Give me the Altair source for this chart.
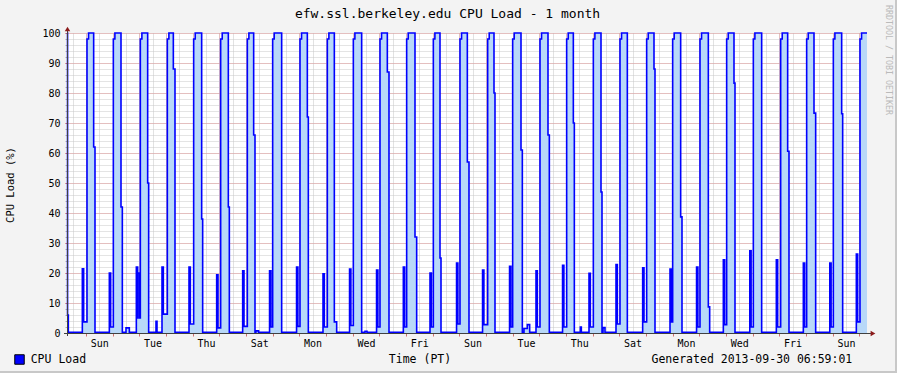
import altair as alt
import pandas as pd
from datetime import datetime, timezone, timedelta

FONT = "DejaVu Sans Mono"
START = datetime(2013, 8, 31, 6, 59, 1, tzinfo=timezone.utc)
BASE = 0.2

# ---- readings (hours after START) ----
spike_start = [13.8, 38.1, 62.4, 85.5, 109.8, 134.7, 158.1, 182.3, 206.6, 230.4,
               254.3, 278.6, 302.7, 326.7, 350.6, 374.0, 398.3, 422.1, 446.0, 469.8,
               494.1, 518.1, 542.7, 566.6, 590.7, 614.5, 638.4, 662.7, 686.5, 710.4]
spike_val = [21.4, 20.0, 22.0, 22.0, 22.0, 19.4, 20.7, 20.7, 22.0, 19.7,
             21.3, 21.0, 22.0, 20.0, 23.3, 21.0, 22.2, 20.7, 22.6, 19.9,
             22.8, 21.7, 21.3, 22.0, 24.4, 27.4, 24.4, 23.3, 23.3, 26.3]
spike_end = [15.0, 39.3, 63.6, 86.7, 111.0, 135.9, 159.3, 183.5, 207.8, 231.6,
             255.5, 279.8, 303.9, 327.9, 351.8, 375.2, 399.5, 423.3, 447.2, 471.0,
             495.3, 519.3, 543.9, 567.8, 591.9, 615.7, 639.6, 663.9, 687.7, 711.6]
pre_val = [3.7, 2.0, 5.0, 6.3, 3.0, 1.7, 2.2, 2.0, 2.2, 2.0,
           2.5, 2.0, 2.0, 2.0, 3.0, 2.8, 2.0, 2.0, 2.0, 2.0,
           3.0, 3.7, 3.7, 2.0, 2.8, 2.0, 2.0, 2.0, 2.0, 3.7]
rise = [18.0, 41.7, 66.0, 90.3, 114.0, 138.3, 162.3, 185.1, 209.7, 234.3,
        257.7, 281.7, 305.7, 329.7, 353.7, 378.6, 401.1, 425.7, 449.7, 473.7,
        497.7, 521.7, 545.1, 569.7, 593.7, 617.7, 642.3, 665.7, 689.7, 713.7]
full_on = [19.4, 43.1, 67.4, 91.7, 115.4, 139.7, 163.7, 186.5, 211.1, 235.7,
           259.1, 283.1, 307.1, 331.1, 355.1, 380.0, 402.5, 427.1, 451.1, 475.1,
           499.1, 523.1, 546.5, 571.1, 595.1, 619.1, 643.7, 667.1, 691.1, 715.1]
fall = [24.0, 48.6, 72.6, 95.7, 121.2, 145.2, 168.0, 193.2, 216.3, 240.6,
        265.2, 288.3, 313.2, 335.7, 360.3, 384.3, 408.6, 432.9, 455.7, 480.6,
        504.3, 528.3, 552.3, 577.2, 600.3, 625.2, 648.6, 672.3, 697.2]
shoulder = [62, 42, 50, 88, 38, 42, 66, 0, 72, 3.7,
            0, 87, 32, 25, 57, 80, 61, 66, 70, 47,
            0, 88, 38.7, 8.7, 83.3, 0, 60.6, 73.3, 73.1]
settle = [25.2, 49.8, 73.5, 97.2, 122.1, 146.1, 169.2, 193.2, 217.2, 242.7,
          265.2, 289.8, 314.7, 336.6, 361.8, 385.2, 409.8, 434.1, 456.6, 481.5,
          504.3, 529.2, 553.5, 578.4, 601.2, 625.2, 649.8, 673.8, 698.1]
extra_hour = [0.0, 0.5, 1.2, 53.1, 56.1, 63.9, 65.4, 80.1, 81.0, 170.0, 172.4,
              268.2, 270.0, 411.3, 414.3, 416.4, 462.0, 462.9, 482.4, 484.2, 720.0]
extra_val = [100.0, 6.0, BASE, 1.7, BASE, 20.0, 5.0, 3.9, BASE, 0.7, BASE,
             0.6, BASE, 1.5, 2.8, BASE, 2.0, BASE, 1.8, BASE, 100.0]
series_names = ["CPU Load"]

# tick positions: first midnight is 2013-09-01 00:00
FIRST_MIDNIGHT = datetime(2013, 9, 1, 0, 0, 0, tzinfo=timezone.utc)
day_ticks = [FIRST_MIDNIGHT + timedelta(days=d) for d in range(30)]
half_day_ticks = [FIRST_MIDNIGHT + timedelta(hours=12 * k - 12) for k in range(61)]
label_ticks = [FIRST_MIDNIGHT + timedelta(days=2 * d, hours=12) for d in range(15)]


def ms(dt):
    return int(dt.timestamp() * 1000)


def iso(dt):
    return dt.strftime("%Y-%m-%dT%H:%M:%SZ")


pts = list(zip(extra_hour, extra_val))
for i in range(len(spike_start)):
    pts += [(spike_start[i], spike_val[i]), (spike_end[i], pre_val[i]),
            (rise[i], 98.0), (full_on[i], 100.0)]
    if i < len(fall):
        if shoulder[i] > 0:
            pts.append((fall[i], float(shoulder[i])))
        pts.append((settle[i], BASE))
pts.sort(key=lambda p: p[0])
df = pd.DataFrame({
    "time": [iso(START + timedelta(hours=h)) for h, _ in pts],
    "load": [v for _, v in pts],
})

xscale = alt.Scale(type="utc", nice=False, domain=[
    alt.DateTime(year=2013, month=8, date=31, hours=6, minutes=59, seconds=1, utc=True),
    alt.DateTime(year=2013, month=9, date=30, hours=6, minutes=59, seconds=1, utc=True)])
yscale = alt.Scale(domain=[0, 100], nice=False)

minor_x = alt.Axis(orient="bottom", values=[ms(t) for t in half_day_ticks],
                   grid=True, gridColor="#c4c4c4", gridDash=[1, 1], labels=False,
                   ticks=False, domain=False, title=None, zindex=0)
major_x = alt.Axis(orient="bottom", values=[ms(t) for t in day_ticks],
                   grid=True, gridColor="#e49a9a", gridDash=[1, 1],
                   ticks=True, tickColor="#d07070", tickSize=3, labels=False,
                   domain=False, title=None, zindex=0)
label_x = alt.Axis(orient="bottom", values=[ms(t) for t in label_ticks], format="%a",
                   grid=False, ticks=False, tickSize=3, labelFont=FONT, labelFontSize=10,
                   labelColor="#000000", labelPadding=5, labelOverlap=False,
                   labelFlush=False, labelBound=False, domain=False, title=None)
minor_y = alt.Axis(orient="left", values=list(range(0, 101, 2)), grid=True,
                   gridColor="#c8c8c8", gridDash=[1, 1], labels=False, ticks=True,
                   tickSize=2, tickColor="#b0b0b0", domain=False, title=None, zindex=0)
major_y = alt.Axis(orient="left", values=list(range(0, 101, 10)), grid=True,
                   gridColor="#e49a9a", gridDash=[1, 1], ticks=True, tickColor="#d07070",
                   tickSize=2, labelFont=FONT, labelFontSize=10, labelColor="#000000",
                   labelPadding=5, domain=False, title=None, zindex=0)

area = alt.Chart(df).mark_area(interpolate="step-after", color="#b8d8f8", opacity=1).encode(
    x=alt.X("time:T", scale=xscale, axis=minor_x),
    y=alt.Y("load:Q", scale=yscale, axis=minor_y),
)
line = alt.Chart(df).mark_line(interpolate="step-after", color="#0000ff", strokeWidth=1.6).encode(
    x=alt.X("time:T", scale=xscale, axis=major_x),
    y=alt.Y("load:Q", scale=yscale, axis=major_y),
)
label_layer = alt.Chart(df).mark_line(opacity=0).encode(
    x=alt.X("time:T", scale=xscale, axis=label_x),
    y=alt.Y("load:Q", scale=yscale, axis=None),
)

one = pd.DataFrame({"k": [0]})
x_line = alt.Chart(one).mark_rule(color="#404040", strokeWidth=1).encode(
    x=alt.value(-3), x2=alt.value(804), y=alt.value(300.5))
y_line = alt.Chart(one).mark_rule(color="#404040", strokeWidth=1).encode(
    x=alt.value(0.5), y=alt.value(303), y2=alt.value(-3))
arrow_up = alt.Chart(one).mark_point(shape="triangle-up", filled=True, size=30,
                                     color="#8b1a1a", opacity=1).encode(
    x=alt.value(0.5), y=alt.value(-4))
arrow_right = alt.Chart(one).mark_point(shape="triangle-right", filled=True, size=30,
                                        color="#8b1a1a", opacity=1).encode(
    x=alt.value(806), y=alt.value(300.5))

border_b = alt.Chart(one).mark_rule(color="#c8c8c8", strokeWidth=2).encode(
    x=alt.value(-67), x2=alt.value(830), y=alt.value(339))
border_r = alt.Chart(one).mark_rule(color="#c8c8c8", strokeWidth=2).encode(
    x=alt.value(829), y=alt.value(-33), y2=alt.value(340))


def label(txt, x, y, size, align="center", baseline="alphabetic", angle=0, color="#000000"):
    kw = dict(font=FONT, fontSize=size, align=align, baseline=baseline, color=color)
    if angle:
        kw["angle"] = angle
    return alt.Chart(pd.DataFrame({"t": [txt]})).mark_text(**kw).encode(
        text="t:N", x=alt.value(x), y=alt.value(y))


title = label("efw.ssl.berkeley.edu CPU Load - 1 month", 380.5, -14.7, 13)
ytitle = label("CPU Load (%)", -56, 152, 10.5, baseline="middle", angle=270)
xtitle = label("Time (PT)", 353, 329.7, 11.5)
gen = label("Generated 2013-09-30 06:59:01", 785.3, 329.7, 11.5, align="right")
wm = label("RRDTOOL / TOBI OETIKER", 821, 27, 8.3, baseline="middle", angle=90, color="#bababa")

# legend swatch + label
leg_sq = alt.Chart(pd.DataFrame({"series": series_names})).mark_square(
    size=90, filled=True, stroke="black", strokeWidth=1, color="#0000ff", opacity=1).encode(
    x=alt.value(-47.5), y=alt.value(326.5))
leg_txt = alt.Chart(pd.DataFrame({"series": series_names})).mark_text(
    font=FONT, fontSize=11.5, align="left", baseline="alphabetic", color="#000000").encode(
    text="series:N", x=alt.value(-36.3), y=alt.value(329.7))

chart = alt.layer(
    area, line, label_layer, x_line, y_line, arrow_up, arrow_right, border_b, border_r,
    title, ytitle, xtitle, gen, wm, leg_sq, leg_txt,
).resolve_axis(x="independent", y="independent").properties(
    width=800, height=300, autosize="none",
    padding={"left": 67, "top": 33, "right": 30, "bottom": 40},
    background="#f3f3f3",
).configure_view(stroke=None, fill="white")

chart.save("out.html", embed_options={"renderer": "svg", "actions": False})
